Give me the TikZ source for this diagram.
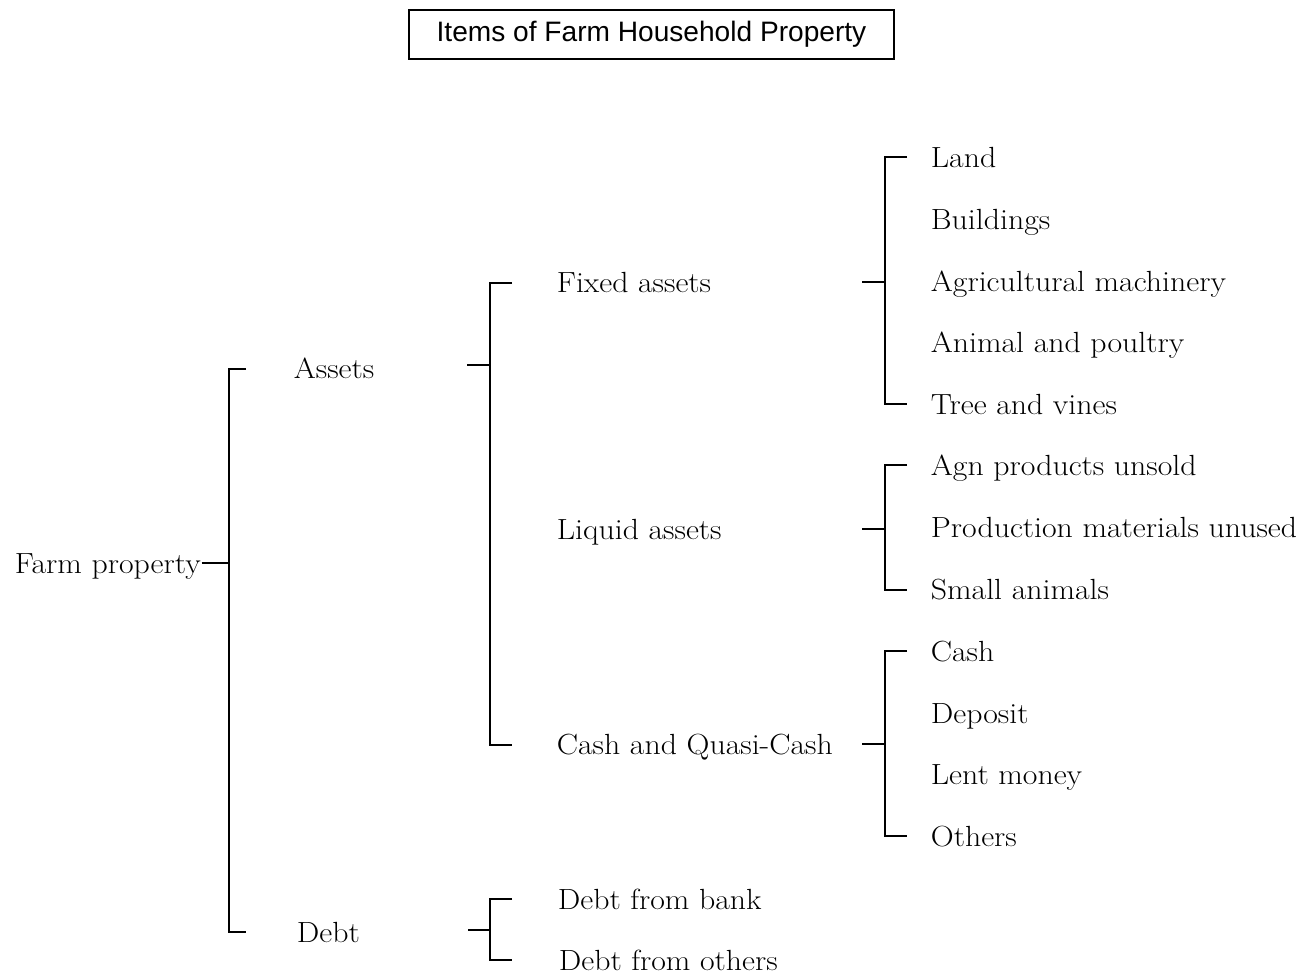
\documentclass[tikz,border=0pt]{standalone}
\usepackage{fontspec}
\newfontfamily\titlefont{Liberation Sans}
\newfontfamily\lblfont{Latin Modern Roman}[FakeStretch=1.09]
\begin{document}
\begin{tikzpicture}[x=0.02cm,y=-0.02cm,line width=1pt,
  lbl/.style={anchor=west,inner sep=0pt,text height=15.4pt,text depth=4pt,
    font=\lblfont\fontsize{16.6}{20}\selectfont},
  titlebox/.style={draw,line width=1.2pt,minimum width=9.7cm,minimum height=0.98cm,
    inner sep=0pt,font=\titlefont\fontsize{16}{18}\selectfont}]
\useasboundingbox (0,0) rectangle (1305,974);
\node[titlebox] (title) at (651.5,34.5) {Items of Farm Household Property};

% labels
\node[lbl] (farm) at (14,563) {Farm property};
\node[lbl] (assets) at (293,368) {Assets};
\node[lbl] (debt) at (296,932) {Debt};
\node[lbl] (fixed) at (556,282) {Fixed assets};
\node[lbl] (liquid) at (556,529) {Liquid assets};
\node[lbl] (cashq) at (556,744) {Cash and Quasi-Cash};
\node[lbl] (land) at (930,157) {Land};
\node[lbl] (build) at (930,219) {Buildings};
\node[lbl] (agm) at (930,281) {Agricultural machinery};
\node[lbl] (animal) at (930,342) {Animal and poultry};
\node[lbl] (tree) at (930,404) {Tree and vines};
\node[lbl] (agn) at (930,465) {Agn products unsold};
\node[lbl] (prod) at (930,527) {Production materials unused};
\node[lbl] (small) at (930,589) {Small animals};
\node[lbl] (cash) at (930,651) {Cash};
\node[lbl] (deposit) at (930,713) {Deposit};
\node[lbl] (lent) at (930,774) {Lent money};
\node[lbl] (others) at (930,836) {Others};
\node[lbl] (bank) at (557,899) {Debt from bank};
\node[lbl] (dothers) at (558,960) {Debt from others};

% bracket 1: Farm property
\coordinate (b1) at (229,563);
\coordinate (b1t) at (246,369);
\coordinate (b1b) at (246,932);
\draw (farm.east) -- (b1);
\draw (b1t) -- (b1t -| b1) -- (b1b -| b1) -- (b1b);

% bracket 2: Assets
\coordinate (a2) at (467,365);
\coordinate (b2) at (490,365);
\coordinate (b2t) at (512,283);
\coordinate (b2b) at (512,745);
\draw (a2) -- (b2);
\draw (b2t) -- (b2t -| b2) -- (b2b -| b2) -- (b2b);

% bracket 3: Fixed assets
\coordinate (a3) at (862,282);
\coordinate (b3) at (885,282);
\coordinate (b3t) at (907,157);
\coordinate (b3b) at (907,404);
\draw (a3) -- (b3);
\draw (b3t) -- (b3t -| b3) -- (b3b -| b3) -- (b3b);

% bracket 4: Liquid assets
\coordinate (a4) at (862,529);
\coordinate (b4) at (885,529);
\coordinate (b4t) at (907,465);
\coordinate (b4b) at (907,590);
\draw (a4) -- (b4);
\draw (b4t) -- (b4t -| b4) -- (b4b -| b4) -- (b4b);

% bracket 5: Cash and Quasi-Cash
\coordinate (a5) at (862,744);
\coordinate (b5) at (885,744);
\coordinate (b5t) at (907,651);
\coordinate (b5b) at (907,836);
\draw (a5) -- (b5);
\draw (b5t) -- (b5t -| b5) -- (b5b -| b5) -- (b5b);

% bracket 6: Debt
\coordinate (a6) at (468,930);
\coordinate (b6) at (490,930);
\coordinate (b6t) at (512,899);
\coordinate (b6b) at (512,960);
\draw (a6) -- (b6);
\draw (b6t) -- (b6t -| b6) -- (b6b -| b6) -- (b6b);
\end{tikzpicture}
\end{document}
